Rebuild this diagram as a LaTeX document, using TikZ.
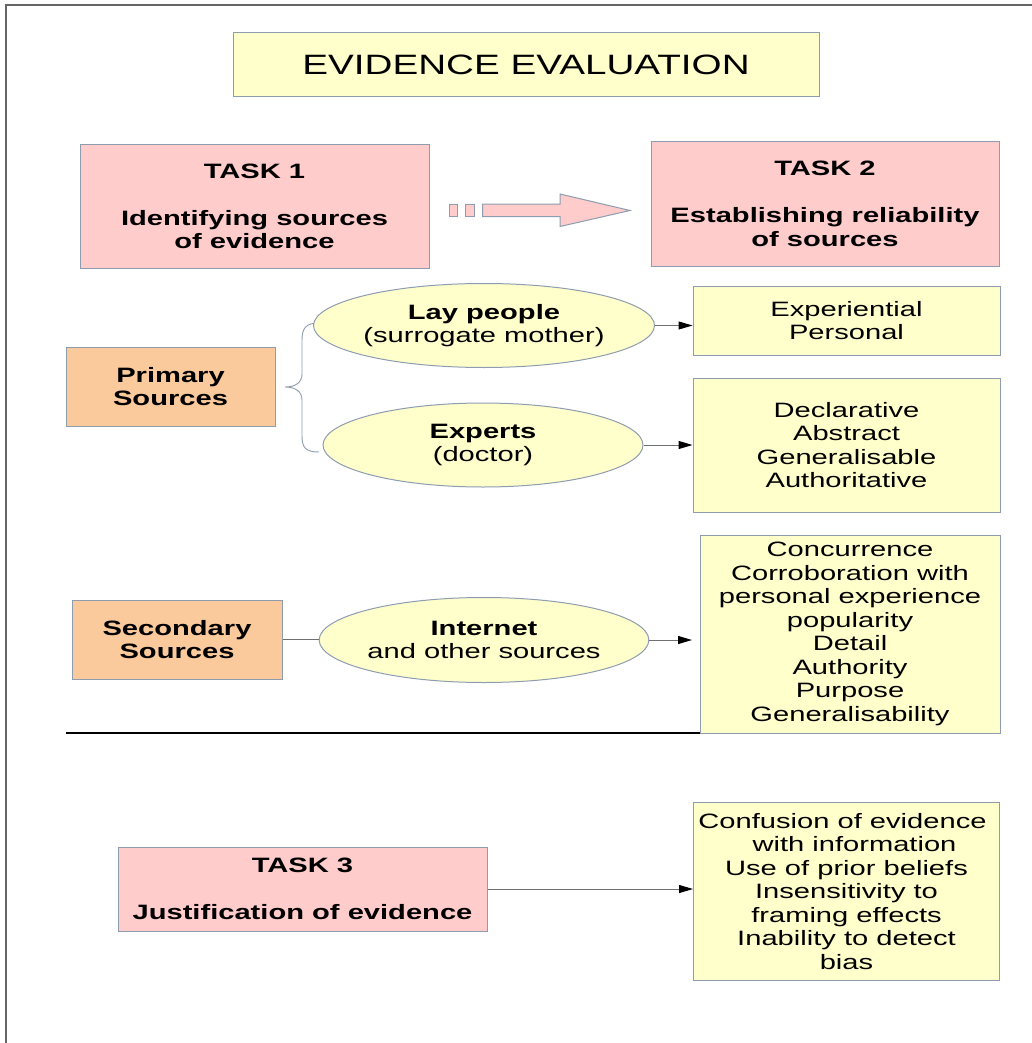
\documentclass[tikz,border=0pt]{standalone}
\usepackage{fontspec}
\setmainfont{Liberation Sans}[FakeStretch=1.40]
\newfontfamily\titlefont{Liberation Sans}[FakeStretch=1.38]
\usetikzlibrary{arrows.meta,shapes.geometric}
\definecolor{pinkfill}{HTML}{FFCCCC}
\definecolor{yellowfill}{HTML}{FFFFCC}
\definecolor{peachfill}{HTML}{FACA9C}
\definecolor{edgeblue}{HTML}{8E9CB0}
\definecolor{linegray}{HTML}{707070}
\definecolor{framegray}{HTML}{666666}

\begin{document}
\begin{tikzpicture}[x=1pt,y=-1pt,
  txt/.style={font=\fontsize{20.8}{23.5}\selectfont, align=center, inner sep=0pt, text=black},
  boxbase/.style={txt, rectangle, draw=edgeblue, line width=1pt},
  taskbox/.style={boxbase, fill=pinkfill},
  notebox/.style={boxbase, fill=yellowfill},
  srcbox/.style={boxbase, fill=peachfill},
  oval/.style={txt, ellipse, draw=edgeblue, fill=yellowfill, line width=1pt},
  link/.style={draw=linegray, line width=1pt},
  pointer/.style={link, -{Triangle[length=14pt,width=8pt,fill=black,color=black]}},
]
\useasboundingbox (0,0) rectangle (1032,1043);

% page frame (top and left edges)
\draw[framegray, line width=2pt] (1032,5) -- (6,5) -- (6,1043);

% title
\node[notebox, minimum width=586, minimum height=64,
      font=\titlefont\fontsize{28}{32}\selectfont] (title) at (526,65) {EVIDENCE EVALUATION};

% the two tasks
\node[taskbox, minimum width=349, minimum height=123] (task1) at (254.5,206.5)
  {\textbf{TASK 1}\\[23.5pt]\textbf{Identifying sources}\\\textbf{of evidence}};
\node[taskbox, minimum width=348, minimum height=124] (task2) at (825,204)
  {\textbf{TASK 2}\\[23.5pt]\textbf{Establishing reliability}\\\textbf{of sources}};

% broken block arrow from task 1 to task 2
\begin{scope}[fill=pinkfill, draw=edgeblue, line width=1pt]
  \filldraw (449,204) rectangle (457.5,216.5);
  \filldraw (465.5,204) rectangle (474.5,216.5);
  \filldraw (482.5,204) -- (560,204) -- (560,194) -- (630,210.5)
            -- (560,226.5) -- (560,216.5) -- (482.5,216.5) -- cycle;
\end{scope}

% primary sources
\node[srcbox, minimum width=209, minimum height=79] (primary) at (170.5,386.5)
  {\textbf{Primary}\\\textbf{Sources}};
\draw[edgeblue, line width=0.9pt]
  (319,323) .. controls (306,323) and (302,328) .. (302,340)
  -- (302,374) .. controls (302,382) and (296,387) .. (285,387)
  .. controls (296,387) and (302,392) .. (302,400)
  -- (302,436) .. controls (302,448) and (306,452) .. (319,452);

\node[oval, minimum width=322, minimum height=84] (lay) at (484,325.5)
  {\textbf{Lay people}\\(surrogate mother)};
\node[oval, minimum width=320, minimum height=84] (experts) at (483,445)
  {\textbf{Experts}\\(doctor)};

\node[notebox, minimum width=307, minimum height=69] (layq) at (846.5,320.5)
  {Experiential\\Personal};
\node[notebox, minimum width=307, minimum height=134] (expq) at (846.5,445)
  {Declarative\\Abstract\\Generalisable\\Authoritative};

\draw[pointer] (lay.east) -- (lay.east -| layq.west);
\draw[pointer] (experts.east) -- (experts.east -| expq.west);

% secondary sources
\draw[black, line width=2.8pt] (66,733) -- (700,733);

\node[srcbox, minimum width=210, minimum height=79] (secondary) at (177,639.5)
  {\textbf{Secondary}\\\textbf{Sources}};
\node[oval, minimum width=322, minimum height=85] (internet) at (484,640)
  {\textbf{Internet}\\and other sources};
\node[notebox, minimum width=300, minimum height=198] (netq) at (850,634)
  {Concurrence\\Corroboration with\\personal experience\\popularity\\Detail\\Authority\\Purpose\\Generalisability};
\coordinate (nettip) at (692,640);

\draw[link] (secondary.east) -- (secondary.east -| internet.west);
\draw[pointer] (internet.east) -- (nettip);

% task 3
\node[taskbox, minimum width=369, minimum height=84] (task3) at (302.5,889)
  {\textbf{TASK 3}\\[23.5pt]\textbf{Justification of evidence}};
\node[notebox, minimum width=306, minimum height=178] (justq) at (846.5,891.5)
  {Confusion of evidence\hspace*{8pt}\\\hspace*{16pt}with information\\Use of prior beliefs\\Insensitivity to\hspace*{8pt}\\framing effects\\Inability to detect\\bias};

\draw[pointer] (task3.east) -- (task3.east -| justq.west);
\end{tikzpicture}
\end{document}
